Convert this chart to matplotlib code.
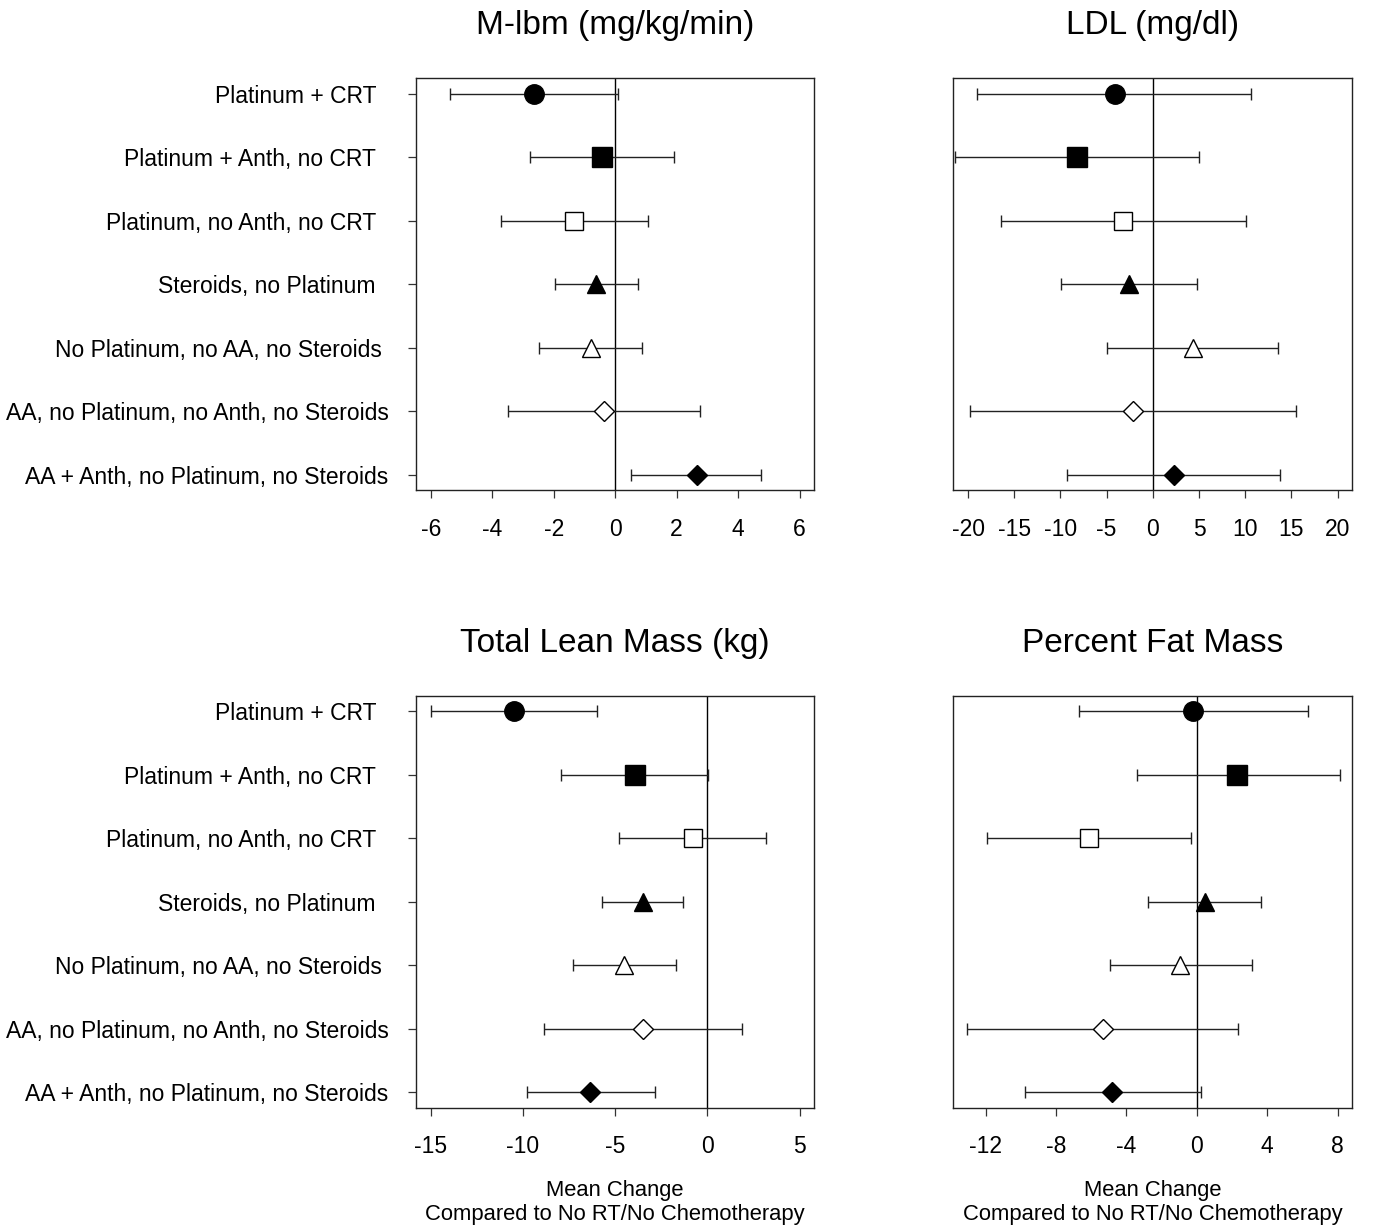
import matplotlib.pyplot as plt
import numpy as np

plt.rcParams['font.family'] = ['Liberation Sans', 'DejaVu Sans']

# group labels (trailing spaces keep the ragged right edge of the original)
groups = ["Platinum + CRT  ",
          "Platinum + Anth, no CRT  ",
          "Platinum, no Anth, no CRT  ",
          "Steroids, no Platinum  ",
          "No Platinum, no AA, no Steroids ",
          "AA, no Platinum, no Anth, no Steroids",
          "AA + Anth, no Platinum, no Steroids"]

# M-lbm (mg/kg/min)
mlbm_est = [-2.65, -0.43, -1.33, -0.61, -0.80, -0.35, 2.65]
mlbm_lo = [-5.36, -2.77, -3.73, -1.96, -2.47, -3.48, 0.53]
mlbm_hi = [0.08, 1.92, 1.07, 0.73, 0.86, 2.76, 4.76]

# LDL (mg/dl)
ldl_est = [-4.1, -8.2, -3.2, -2.6, 4.3, -2.1, 2.3]
ldl_lo = [-19.0, -21.4, -16.4, -9.9, -5.0, -19.8, -9.3]
ldl_hi = [10.6, 5.0, 10.1, 4.8, 13.6, 15.5, 13.8]

# Total Lean Mass (kg)
lean_est = [-10.5, -3.95, -0.8, -3.5, -4.5, -3.5, -6.35]
lean_lo = [-15.0, -7.95, -4.8, -5.7, -7.3, -8.85, -9.8]
lean_hi = [-6.0, 0.05, 3.2, -1.3, -1.7, 1.9, -2.85]

# Percent Fat Mass
fat_est = [-0.2, 2.3, -6.15, 0.45, -0.95, -5.35, -4.8]
fat_lo = [-6.7, -3.4, -11.9, -2.75, -4.95, -13.05, -9.75]
fat_hi = [6.3, 8.15, -0.35, 3.65, 3.15, 2.35, 0.25]

markers = ['o', 's', 's', '^', '^', 'D', 'D']
filled = [True, True, False, True, False, False, True]
msizes = [14, 14, 13, 13, 13, 10, 10]

W, H = 1373, 1228
fig = plt.figure(figsize=(W / 100, H / 100), dpi=100)


def px_axes(left, right, top, bottom):
    return fig.add_axes([left / W, 1 - bottom / H, (right - left) / W, (bottom - top) / H])


panels = [
    ("M-lbm (mg/kg/min)", mlbm_est, mlbm_lo, mlbm_hi, (-6, 6), np.arange(-6, 7, 2),
     (416, 814.3, 78.3, 490), True, False),
    ("LDL (mg/dl)", ldl_est, ldl_lo, ldl_hi, (-20, 20), np.arange(-20, 21, 5),
     (953.3, 1352.3, 78.3, 490), False, False),
    ("Total Lean Mass (kg)", lean_est, lean_lo, lean_hi, (-15, 5), np.arange(-15, 6, 5),
     (416, 814.3, 696, 1107.7), True, True),
    ("Percent Fat Mass", fat_est, fat_lo, fat_hi, (-13, 8), np.arange(-12, 9, 4),
     (953.3, 1352.3, 696, 1107.7), False, True),
]

ypos = np.arange(len(groups), 0, -1)

for title, est, lo, hi, rng, ticks, box, show_y, show_xlab in panels:
    ax = px_axes(*box)
    est = np.array(est)
    lo = np.array(lo)
    hi = np.array(hi)
    ax.axvline(0, color='black', lw=1, zorder=1)
    for i in range(len(groups)):
        ax.errorbar(est[i], ypos[i], xerr=[[est[i] - lo[i]], [hi[i] - est[i]]],
                    fmt='none', ecolor='#222222', elinewidth=1, capsize=4.6,
                    capthick=1, zorder=2)
        ax.plot(est[i], ypos[i], marker=markers[i], ms=msizes[i],
                mfc='black' if filled[i] else 'white', mec='black', mew=1,
                linestyle='none', zorder=3)
    pad = 0.04 * (rng[1] - rng[0])
    ax.set_xlim(rng[0] - pad, rng[1] + pad)
    ax.set_ylim(0.76, 7.24)
    ax.set_xticks(ticks)
    ax.set_xticklabels([str(t) for t in ticks])
    if show_y:
        ax.set_yticks(ypos)
        ax.set_yticklabels(groups)
    else:
        ax.set_yticks([])
    ax.tick_params(direction='out', length=5.8, width=0.9, pad=14,
                   labelsize=16.5, color='#333333')
    for sp in ax.spines.values():
        sp.set_linewidth(1)
        sp.set_color('#222222')
    ax.set_title(title, fontsize=24, pad=32)
    if show_xlab:
        ax.set_xlabel("Mean Change\nCompared to No RT/No Chemotherapy",
                      fontsize=15.8, linespacing=1.15, labelpad=16)

fig.savefig('out.png', dpi=100)
